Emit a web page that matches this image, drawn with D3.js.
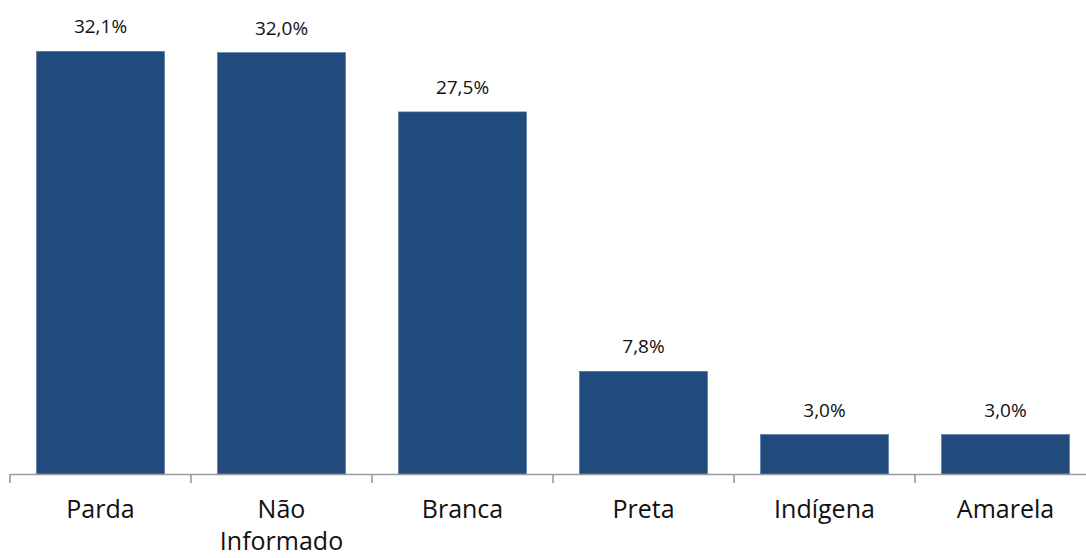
<!DOCTYPE html>
<html>
<head>
<meta charset="utf-8">
<script src="https://cdn.jsdelivr.net/npm/d3@7"></script>
<style>
  html, body { margin: 0; padding: 0; background: #ffffff; }
  svg { display: block; }
</style>
</head>
<body>
<svg id="chart" width="1086" height="558"></svg>
<script>
const categories = ["Parda", "Não Informado", "Branca", "Preta", "Indígena", "Amarela"];
const categoryLines = [["Parda"], ["Não", "Informado"], ["Branca"], ["Preta"], ["Indígena"], ["Amarela"]];
const values = [32.1, 32.0, 27.5, 7.8, 3.0, 3.0];
const valueLabels = ["32,1%", "32,0%", "27,5%", "7,8%", "3,0%", "3,0%"];

const svg = d3.select("#chart");
const W = 1086, H = 558;
const baseY = 474;

const x = d3.scaleBand()
  .domain(categories)
  .range([10, 1096])
  .paddingInner(0.293)
  .paddingOuter(0.1465);

const y = d3.scaleLinear()
  .domain([0, 36])
  .range([baseY, 0]);

// bars
svg.append("g").selectAll("rect")
  .data(categories)
  .join("rect")
  .attr("x", d => x(d))
  .attr("y", (d, i) => y(values[i]))
  .attr("width", x.bandwidth())
  .attr("height", (d, i) => baseY - y(values[i]))
  .attr("fill", "#214a7d")
  .attr("stroke", "#4f6f98")
  .attr("stroke-width", 0.6);

// axis line
svg.append("line")
  .attr("x1", 10).attr("x2", W)
  .attr("y1", baseY + 0.5).attr("y2", baseY + 0.5)
  .attr("stroke", "#9a9a9a").attr("stroke-width", 1.6);

// tick marks at band boundaries
const step = x.step();
const tickXs = d3.range(categories.length + 1).map(i => x.range()[0] + i * step);
svg.append("g").selectAll("line")
  .data(tickXs)
  .join("line")
  .attr("x1", d => d).attr("x2", d => d)
  .attr("y1", baseY).attr("y2", baseY + 9)
  .attr("stroke", "#9a9a9a").attr("stroke-width", 1.6);

// value labels
svg.append("g").selectAll("text")
  .data(categories)
  .join("text")
  .attr("x", d => x(d) + x.bandwidth() / 2)
  .attr("y", (d, i) => y(values[i]) - 18)
  .attr("text-anchor", "middle")
  .attr("font-family", "'Open Sans', sans-serif")
  .attr("font-size", 19)
  .attr("fill", "#111")
  .text((d, i) => valueLabels[i]);

// category labels
const catG = svg.append("g");
categories.forEach((c, i) => {
  const t = catG.append("text")
    .attr("x", x(c) + x.bandwidth() / 2)
    .attr("y", 518)
    .attr("text-anchor", "middle")
    .attr("font-family", "'Open Sans', sans-serif")
    .attr("font-size", 25)
    .attr("fill", "#111");
  categoryLines[i].forEach((ln, j) => {
    t.append("tspan")
      .attr("x", x(c) + x.bandwidth() / 2)
      .attr("y", 518 + j * 32)
      .text(ln);
  });
});
</script>
</body>
</html>
